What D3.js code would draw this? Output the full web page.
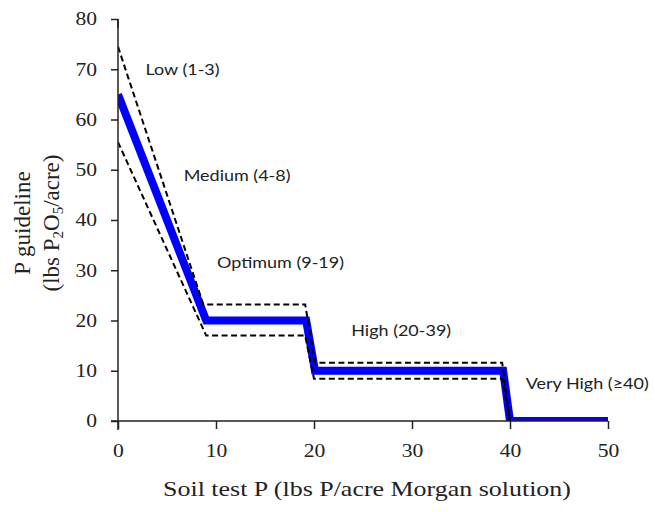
<!DOCTYPE html>
<html>
<head>
<meta charset="utf-8">
<script src="https://cdn.jsdelivr.net/npm/d3@7"></script>
<style>
  body { margin: 0; background: #fff; }
  .tick text { font-family: "Liberation Serif", serif; font-size: 18px; fill: #222; }
  .lbl { font-family: Lato, "Open Sans", sans-serif; font-size: 15px; fill: #222; }
</style>
</head>
<body>
<div id="chart"></div>
<script>
// Guideline (blue) and +/- range (dashed)
const guideX = [0, 9, 19.2, 20.1, 39.3, 40, 50];
const guideY = [65, 20, 20, 10, 10, 0, 0];
const upperX = [0, 8.7, 19.1, 20.1, 39.2, 40];
const upperY = [74.5, 23.2, 23.2, 11.6, 11.6, 0];
const lowerX = [0, 9, 19.1, 20, 39.2, 40];
const lowerY = [55.5, 17, 17, 8.4, 8.4, 0];

const zoneNames = ["Low (1-3)", "Medium (4-8)", "Optimum (9-19)", "High (20-39)", "Very High (\u226540)"];
const zoneX = [2.8, 6.7, 10.1, 23.8, 41.6];
const zoneY = [70, 48.8, 31.4, 18, 7.5];

const xTicks = [0, 10, 20, 30, 40, 50];
const yTicks = [0, 10, 20, 30, 40, 50, 60, 70, 80];

// the original figure is stretched a bit horizontally
const stretch = 1.2;

const margin = { top: 19, right: 47, bottom: 91, left: 118 },
    width = 655 - margin.left - margin.right,
    height = 512 - margin.top - margin.bottom;

const svg = d3.select("#chart")
    .append("svg")
    .attr("width", 655)
    .attr("height", 512);

const g = svg.append("g")
    .attr("transform", "translate(" + margin.left + "," + margin.top + ")");

const x = d3.scaleLinear().domain([0, 50]).range([0, width]);
const y = d3.scaleLinear().domain([0, 80]).range([height, 0]);

// clip so the zero-level line only shows above the axis
svg.append("defs").append("clipPath").attr("id", "plot")
    .append("rect").attr("x", 0).attr("y", 0).attr("width", width + 10).attr("height", height);

const line = d3.line().x(d => x(d[0])).y(d => y(d[1]));

const plot = g.append("g").attr("clip-path", "url(#plot)");

plot.append("path")
    .datum(d3.zip(guideX, guideY))
    .attr("d", line)
    .attr("fill", "none")
    .attr("stroke", "#0000ff")
    .attr("stroke-width", 8);

[d3.zip(upperX, upperY), d3.zip(lowerX, lowerY)].forEach(pts => {
    plot.append("path")
        .datum(pts)
        .attr("d", line)
        .attr("fill", "none")
        .attr("stroke", "#000")
        .attr("stroke-width", 2)
        .attr("stroke-dasharray", "6,3.5");
});

// Axes
const xAxis = g.append("g")
    .attr("transform", "translate(0," + height + ")")
    .call(d3.axisBottom(x).tickValues(xTicks).tickSize(8).tickPadding(15).tickSizeOuter(0));
const yAxis = g.append("g")
    .call(d3.axisLeft(y).tickValues(yTicks).tickSize(7).tickPadding(10.5).tickSizeOuter(0));

[xAxis, yAxis].forEach(a => {
    a.select(".domain").attr("stroke", "#222").attr("stroke-width", 1.5);
    a.selectAll(".tick line").attr("stroke", "#222").attr("stroke-width", 1.5);
    a.selectAll(".tick text").attr("transform", "scale(" + stretch + ",1)");
});
// domain lines extend past origin like the original
xAxis.select(".domain").attr("d", "M-7,0H" + width);
yAxis.select(".domain").attr("d", "M0,9V0");
yAxis.append("line").attr("x1", 0).attr("x2", 0).attr("y1", 0).attr("y2", height + 9)
    .attr("stroke", "#222").attr("stroke-width", 1.5);

// zone labels
g.selectAll(".lbl")
    .data(zoneNames)
    .enter()
    .append("text")
    .attr("class", "lbl")
    .attr("transform", (d, i) => "translate(" + x(zoneX[i]) + "," + y(zoneY[i]) + ") scale(" + stretch + ",1)")
    .attr("dy", "0.35em")
    .text(d => d);

// axis titles
svg.append("text")
    .attr("transform", "translate(" + (margin.left + width / 2 + 4) + ",496) scale(" + (stretch - 0.02) + ",1)")
    .attr("text-anchor", "middle")
    .style("font-family", "Liberation Serif, serif")
    .style("font-size", "22px")
    .style("fill", "#222")
    .text("Soil test P (lbs P/acre Morgan solution)");

const yt = svg.append("text")
    .attr("transform", "translate(0,223) rotate(-90)")
    .attr("text-anchor", "middle")
    .style("font-family", "Liberation Serif, serif")
    .style("font-size", "23px")
    .style("fill", "#222");
yt.append("tspan").attr("x", 0).attr("y", 30).text("P guideline");
yt.append("tspan").attr("x", 0).attr("y", 59).text("(lbs P");
const sub = s => yt.append("tspan").attr("dy", 4).style("font-size", "15px").text(s);
sub("2");
yt.append("tspan").attr("dy", -4).text("O");
sub("5");
yt.append("tspan").attr("dy", -4).text("/acre)");
</script>
</body>
</html>
